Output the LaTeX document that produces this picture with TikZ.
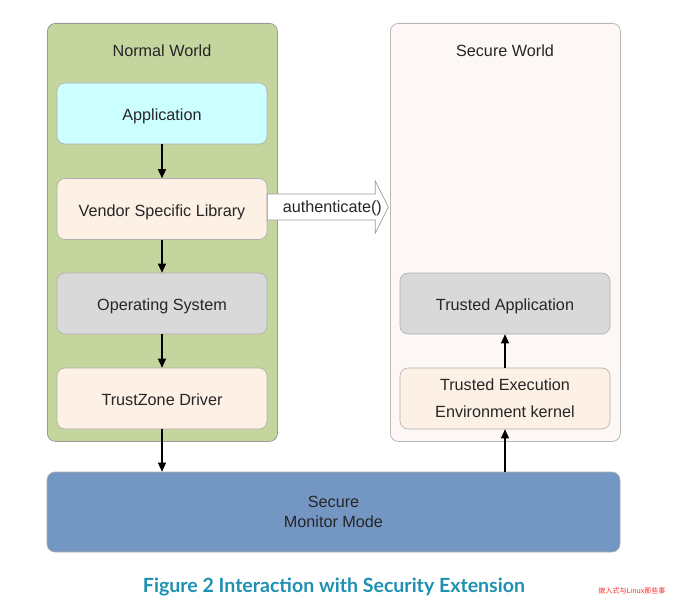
\documentclass[tikz,border=0pt]{standalone}
\usepackage{fontspec}
\setmainfont{Liberation Sans}
\newfontfamily\capfont{Lato}
\newfontfamily\cjk{Noto Sans CJK SC}
\usetikzlibrary{arrows.meta}
\definecolor{nwgreen}{HTML}{C5D59E}
\definecolor{swpink}{HTML}{FDF8F6}
\definecolor{appcyan}{HTML}{CCFFFF}
\definecolor{peach}{HTML}{FDF0E4}
\definecolor{osgray}{HTML}{D9D9D9}
\definecolor{smblue}{HTML}{7396C3}
\definecolor{bordergray}{HTML}{9A9A9A}
\definecolor{capteal}{HTML}{1E90B2}
\tikzset{
  world/.style={draw=bordergray, line width=0.8pt, rounded corners=8pt, minimum width=230pt, minimum height=418pt, anchor=north west},
  inbox/.style={draw=bordergray!80, line width=0.6pt, rounded corners=8pt, minimum width=210pt, minimum height=61pt, font=\fontsize{16.2}{19}\selectfont, text=black!85, align=center},
  onebox/.style={inbox, text height=14pt, text depth=0pt},
  flow/.style={-{Triangle[length=9pt,width=8pt]}, line width=1.3pt, black},
  lbl/.style={font=\fontsize{16.2}{19}\selectfont, text=black!85}
}
\begin{document}
\begin{tikzpicture}[x=1pt,y=-1pt]
\useasboundingbox (0,0) rectangle (675,607);
% worlds
\node[world, fill=nwgreen] (nw) at (47,23) {};
\node[world, fill=swpink, draw=bordergray!70] (sw) at (390,23) {};
\node[lbl] (nwt) at (162,51) {Normal World};
\node[lbl] (swt) at (505,51) {Secure World};
% normal world boxes
\node[onebox, fill=appcyan] (app) at (162,113.5) {Application};
\node[onebox, fill=peach] (vsl) at (162,209) {Vendor Specific Library};
\node[onebox, fill=osgray] (os) at (162,303.5) {Operating System};
\node[onebox, fill=peach] (tzd) at (162,398.5) {TrustZone Driver};
% secure world boxes
\node[onebox, fill=osgray] (ta) at (505,303.5) {Trusted Application};
\node[inbox, fill=peach, font=\fontsize{16.2}{27}\selectfont] (tee) at (505,398.5) {Trusted Execution\\Environment kernel};
% secure monitor
\node[draw=bordergray!80, line width=0.6pt, fill=smblue, rounded corners=8pt, minimum width=573pt, minimum height=80pt, align=center, font=\fontsize{16.2}{20}\selectfont, text=black!85] (smm) at (333.5,512) {Secure\\Monitor Mode};
% arrows
\draw[flow] (app.south) -- (vsl.north);
\draw[flow] (vsl.south) -- (os.north);
\draw[flow] (os.south) -- (tzd.north);
\draw[flow] (tzd.south) -- (tzd.south |- smm.north);
\draw[flow] (tee.south |- smm.north) -- (tee.south);
\draw[flow] (tee.north) -- (ta.south);
% hollow arrow
\coordinate (ha) at (vsl.east);
\draw[draw=bordergray, line width=0.7pt, fill=white]
  ([yshift=15]ha) -- ++(108,0) -- ++(0,-13) -- ++(13,26) -- ++(-13,26) -- ++(0,-13) -- ([yshift=-11]ha) -- cycle;
\node[lbl, anchor=west] (auth) at ([xshift=12,yshift=1]ha) {authenticate()};
% caption
\node[text=capteal, font=\capfont\bfseries] (cap) at (334,587) {\resizebox{382pt}{!}{Figure 2 Interaction with Security Extension}};
\node[text=red!85, font=\cjk\fontsize{7}{8}\selectfont] (wm) at (632,591) {嵌入式与Linux那些事};
\end{tikzpicture}
\end{document}
